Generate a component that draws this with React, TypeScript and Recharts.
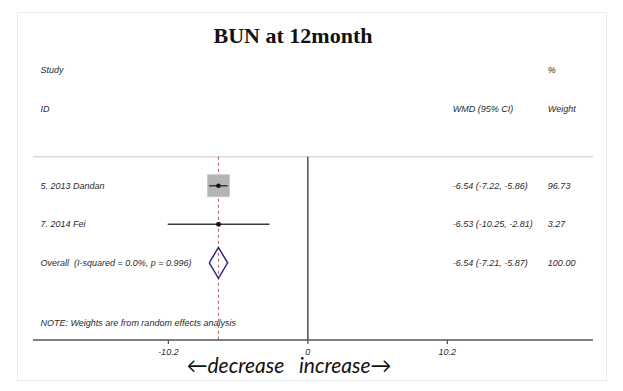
import { ComposedChart, XAxis, YAxis, Scatter, Line, ReferenceLine } from "recharts";

// study rows
const studies = ["5. 2013 Dandan", "7. 2014 Fei"];
const wmd = [-6.54, -6.53];
const ciLow = [-7.22, -10.25];
const ciHigh = [-5.86, -2.81];
const weights = [96.73, 3.27];
const ciText = ["-6.54 (-7.22, -5.86)", "-6.53 (-10.25, -2.81)"];
const weightText = ["96.73", "3.27"];

// pooled estimate
const overallLabel = "Overall  (I-squared = 0.0%, p = 0.996)";
const overallEst = -6.54;
const overallLow = -7.21;
const overallHigh = -5.87;
const overallCiText = "-6.54 (-7.21, -5.87)";
const overallWeightText = "100.00";

const xTicks = [-10.2, 0, 10.2];
const note = "NOTE: Weights are from random effects analysis";

// layout (row index from top, x columns in data units)
const X_MIN = -20.1;
const X_MAX = 20.85;
const studyRows = [3, 4];
const overallRow = 5;
const noteRow = 6.55;
const ruleRow = 2.25;
const bottomRow = 7;
const colLabel = -19.55;
const colCi = 10.6;
const colWeight = 17.55;
const BOX_MAX = 22;
const TXT = "#2a2a2a";

const textRows = [
  { x: colLabel, y: 0, text: "Study" },
  { x: colWeight, y: 0, text: "%" },
  { x: colLabel, y: 1, text: "ID" },
  { x: colCi, y: 1, text: "WMD (95% CI)" },
  { x: colWeight, y: 1, text: "Weight" },
  ...studies.flatMap((s, i) => [
    { x: colLabel, y: studyRows[i], text: s },
    { x: colCi, y: studyRows[i], text: ciText[i] },
    { x: colWeight, y: studyRows[i], text: weightText[i] },
  ]),
  { x: colLabel, y: overallRow, text: overallLabel },
  { x: colCi, y: overallRow, text: overallCiText },
  { x: colWeight, y: overallRow, text: overallWeightText },
  { x: colLabel, y: noteRow, text: note },
];

const boxes = studies.map((s, i) => ({ x: wmd[i], y: studyRows[i], w: weights[i] }));
const maxW = Math.max(...weights);

const diamond = [
  { x: overallLow, y: overallRow },
  { x: overallEst, y: overallRow - 0.4 },
  { x: overallHigh, y: overallRow },
  { x: overallEst, y: overallRow + 0.4 },
  { x: overallLow, y: overallRow },
];

const TextShape = (p: any) => (
  <text
    x={p.cx}
    y={p.cy}
    dominantBaseline="central"
    fontFamily="'Liberation Sans', Arial, sans-serif"
    fontStyle="italic"
    fontSize={9}
    fill={TXT}
    style={{ whiteSpace: "pre" }}
  >
    {p.payload.text}
  </text>
);

const BoxShape = (p: any) => {
  const s = BOX_MAX * Math.sqrt(p.payload.w / maxW);
  return <rect x={p.cx - s / 2} y={p.cy - s / 2} width={s} height={s} fill="#b4b4b4" stroke="#c8c8c8" strokeWidth={0.8} />;
};

const DotShape = (p: any) => <circle cx={p.cx} cy={p.cy} r={2.3} fill="#111" />;

export default function App() {
  return (
    <div style={{ position: "absolute", left: 0, top: 0, width: 623, height: 391, background: "#fff" }}>
      <div
        style={{
          position: "absolute",
          left: 17,
          top: 12,
          width: 588,
          height: 367,
          border: "1px solid #e6ecec",
        }}
      />
      <div
        style={{
          position: "absolute",
          left: 0,
          width: 586,
          top: 25,
          textAlign: "center",
          fontFamily: "'Liberation Serif', 'Times New Roman', serif",
          fontWeight: "bold",
          fontSize: 22,
          lineHeight: "22px",
          color: "#111",
        }}
      >
        BUN at 12month
      </div>
      <ComposedChart
        width={623}
        height={391}
        margin={{ top: 50.75, right: 30, bottom: 21, left: 33 }}
        style={{ position: "absolute", left: 0, top: 0 }}
      >
        <XAxis
          type="number"
          dataKey="x"
          domain={[X_MIN, X_MAX]}
          ticks={xTicks}
          allowDataOverflow
          height={30}
          stroke="#555"
          strokeWidth={1.3}
          tickSize={4}
          tickMargin={5}
          tickFormatter={(v: number) => String(v)}
          tick={{ fontSize: 9, fontStyle: "italic", fill: TXT, fontFamily: "'Liberation Sans', Arial, sans-serif" }}
        />
        <YAxis type="number" dataKey="y" domain={[-0.5, bottomRow]} reversed hide allowDataOverflow />
        <ReferenceLine
          segment={[{ x: X_MIN, y: ruleRow }, { x: X_MAX, y: ruleRow }]}
          stroke="#dadada"
          strokeWidth={1.5}
        />
        <ReferenceLine
          segment={[{ x: 0, y: ruleRow }, { x: 0, y: bottomRow }]}
          stroke="#222"
          strokeWidth={1.2}
        />
        <ReferenceLine
          segment={[{ x: overallEst, y: ruleRow }, { x: overallEst, y: bottomRow }]}
          stroke="#c8505a"
          strokeWidth={1}
          strokeDasharray="3 3"
        />
        <Scatter data={boxes} shape={BoxShape} isAnimationActive={false} />
        {studies.map((s, i) => (
          <Line
            key={s}
            data={[
              { x: ciLow[i], y: studyRows[i] },
              { x: ciHigh[i], y: studyRows[i] },
            ]}
            dataKey="y"
            type="linear"
            stroke="#3a3a3a"
            strokeWidth={1.5}
            dot={false}
            activeDot={false}
            isAnimationActive={false}
            zIndex={650}
          />
        ))}
        <Line
          data={diamond}
          dataKey="y"
          type="linear"
          stroke="#2a2a8a"
          strokeWidth={1.5}
          dot={false}
          activeDot={false}
          isAnimationActive={false}
          zIndex={650}
        />
        <Scatter data={boxes} shape={DotShape} isAnimationActive={false} zIndex={700} />
        <Scatter data={textRows} shape={TextShape} isAnimationActive={false} zIndex={700} />
      </ComposedChart>
      <div
        style={{
          position: "absolute",
          left: 0,
          width: 578,
          top: 357,
          textAlign: "center",
          fontFamily: "Lato, 'Open Sans', sans-serif",
          fontStyle: "italic",
          fontSize: 21,
          lineHeight: "16px",
          color: "#111",
          whiteSpace: "pre",
        }}
      >
        {"←decrease   increase→"}
      </div>
    </div>
  );
}
